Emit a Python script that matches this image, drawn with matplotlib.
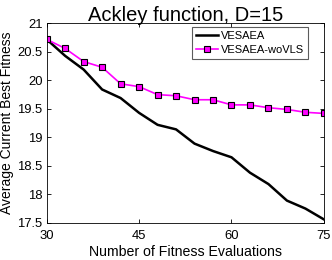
import matplotlib
matplotlib.use('Agg')
import matplotlib.pyplot as plt

plt.rcParams['font.family'] = ['Liberation Sans', 'DejaVu Sans']

# evaluations
evals = [30, 33, 36, 39, 42, 45, 48, 51, 54, 57, 60, 63, 66, 69, 72, 75]
# VESAEA
vesaea = [20.72, 20.43, 20.19, 19.84, 19.69, 19.43, 19.22, 19.14, 18.89, 18.76,
          18.65, 18.38, 18.18, 17.89, 17.75, 17.56]
# VESAEA-woVLS
wovls = [20.72, 20.56, 20.33, 20.23, 19.94, 19.89, 19.75, 19.73, 19.66, 19.66,
         19.57, 19.57, 19.52, 19.49, 19.44, 19.42]

xticks = [30, 45, 60, 75]
yticks = [17.5, 18, 18.5, 19, 19.5, 20, 20.5, 21]

fig = plt.figure(figsize=(3.32, 2.60), dpi=100)
ax = fig.add_axes([0.1406, 0.143, 0.835, 0.767])

ax.plot(evals, vesaea, color='black', lw=1.8, label='VESAEA')
ax.plot(evals, wovls, color='#ff00ff', lw=1.2, marker='s', ms=4,
        mfc='#ff00ff', mec='black', mew=0.8, label='VESAEA-woVLS')

ax.set_xlim(30, 75)
ax.set_ylim(17.5, 21)
ax.set_xticks(xticks)
ax.set_yticks(yticks)
ax.set_yticklabels(['17.5', '18', '18.5', '19', '19.5', '20', '20.5', '21'])
ax.tick_params(direction='in', top=True, right=True, labelsize=9.4, length=3,
               width=0.6)
ax.tick_params(axis='y', pad=3)
ax.tick_params(axis='x', pad=5)
for s in ax.spines.values():
    s.set_linewidth(0.6)

ax.set_title('Ackley function, D=15', fontsize=14.5, pad=2)
ax.set_xlabel('Number of Fitness Evaluations', fontsize=10.2, labelpad=2)
ax.set_ylabel('Average Current Best Fitness', fontsize=10, labelpad=2)

leg = ax.legend(loc='upper right', fontsize=8, frameon=True, fancybox=False,
                borderpad=0.35, handlelength=2.0, handletextpad=0.3,
                labelspacing=0.4, borderaxespad=0.3,
                bbox_to_anchor=(0.955, 1.0))
leg.get_frame().set_edgecolor('#333333')
leg.get_frame().set_linewidth(0.8)

fig.savefig('out.png', dpi=100)
